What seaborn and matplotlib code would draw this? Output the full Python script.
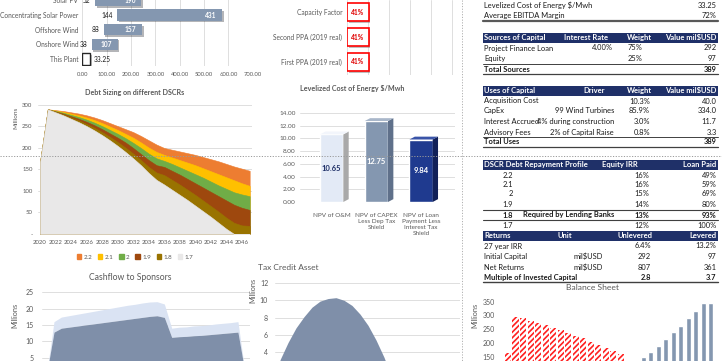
import numpy as np
import pandas as pd
import matplotlib
matplotlib.use("Agg")
import matplotlib.pyplot as plt
import matplotlib.patheffects as pe
import seaborn as sns
from matplotlib.lines import Line2D
from matplotlib.patches import Rectangle, Patch, Polygon

# ---------------- data ----------------
bench_cats = ["Solar PV", "Concentrating Solar Power", "Offshore Wind", "Onshore Wind", "This Plant"]
bench_low = [52, 144, 88, 38, 0]
bench_span = [190, 431, 157, 107, 33.25]
bench_ticks = [0, 100, 200, 300, 400, 500, 600, 700]

kpi_cats = ["Capacity Factor", "Second PPA (2019 real)", "First PPA (2019 real)"]
kpi_vals = [0.41, 0.41, 0.41]

years = list(range(2020, 2048))
dscr_labels = ["2.2", "2.1", "2", "1.9", "1.8", "1.7"]
dscr_2_2 = [167, 290, 288, 286, 283, 280, 276, 271, 265, 258, 251, 244, 237, 228, 218, 208, 200, 196, 192, 188, 184, 179, 174, 169, 163, 157, 152, 147]
dscr_2_1 = [167, 290, 287, 284, 280, 276, 271, 265, 258, 250, 242, 233, 224, 213, 201, 191, 184, 178, 172, 166, 160, 153, 146, 139, 132, 125, 118, 112]
dscr_2_0 = [167, 290, 286, 282, 277, 272, 266, 259, 251, 242, 233, 223, 212, 200, 187, 176, 170, 163, 155, 147, 139, 131, 122, 113, 105, 97, 92, 88]
dscr_1_9 = [167, 290, 285, 280, 274, 268, 261, 253, 244, 234, 224, 213, 200, 186, 172, 160, 156, 147, 138, 128, 118, 108, 98, 88, 78, 68, 61, 56]
dscr_1_8 = [167, 290, 284, 278, 271, 264, 256, 247, 237, 226, 214, 201, 187, 172, 156, 143, 137, 126, 115, 103, 91, 78, 65, 52, 38, 26, 20, 19]
dscr_1_7 = [167, 290, 283, 276, 268, 260, 251, 241, 230, 218, 205, 191, 176, 160, 142, 126, 115, 103, 91, 79, 66, 53, 40, 26, 12, 0, 0, 0]

lcoe_cats = ["NPV of O&M", "NPV of CAPEX\nLess Dep Tax\nShield", "NPV of Loan\nPayment Less\nInterest Tax\nShield"]
lcoe_vals = [10.65, 12.75, 9.84]

cf_base = [0, 12.8, 14.0, 14.3, 14.6, 14.9, 15.2, 15.5, 15.8, 16.1, 16.4, 16.7, 17.0, 17.3, 17.6, 17.8, 17.3,
           11.2, 11.4, 11.5, 11.7, 11.8, 12.0, 12.2, 12.4, 12.6, 12.8, 0]
cf_extra = [0, 3.2, 3.4, 3.5, 3.6, 3.7, 3.8, 3.9, 4.0, 4.1, 4.2, 4.3, 4.3, 4.4, 4.4, 4.3, 4.1,
            2.8, 2.9, 2.9, 3.0, 3.0, 3.0, 3.1, 3.1, 3.1, 3.2, 0]

tax_years = list(range(2020, 2043))
tax_credit = [3.1, 5.1, 6.8, 8.1, 9.2, 9.9, 10.2, 10.3, 10.0, 9.4, 8.4, 7.1, 5.4, 3.4, 1.0, 0, 0, 0, 0, 0, 0, 0, 0]

bs_debt = [162, 296, 289, 281, 273, 264, 255, 246, 236, 226, 216, 205, 194, 183, 172, 158,
           128, 105, 82, 58, 34, 10, 0, 0, 0, 0, 0, 0]
bs_equity = [0, 6, 12, 18, 24, 31, 38, 45, 52, 60, 68, 76, 85, 94, 103, 112, 120, 128,
             148, 168, 190, 213, 239, 263, 290, 317, 345, 345]

top_kpis = [("Levelized Cost of Energy $/Mwh", "33.25"), ("Average EBITDA Margin", "72%")]
sources_head = ["Sources of Capital", "Interest Rate", "Weight", "Value mil$USD"]
sources_rows = [("Project Finance Loan", "4.00%", "75%", "292"), ("Equity", "", "25%", "97")]
sources_total = ("Total Sources", "389")
uses_head = ["Uses of Capital", "Driver", "Weight", "Value mil$USD"]
uses_rows = [("Acquisition Cost", "", "10.3%", "40.0"),
             ("CapEx", "99 Wind Turbines", "85.9%", "334.0"),
             ("Interest Accrued", "4% during construction", "3.0%", "11.7"),
             ("Advisory Fees", "2% of Capital Raise", "0.8%", "3.3")]
uses_total = ("Total Uses", "389")
dscr_head = ["DSCR Debt Repayment Profile", "Equity IRR", "Loan Paid"]
dscr_rows = [("2.2", "", "16%", "49%"), ("2.1", "", "16%", "59%"), ("2", "", "15%", "69%"),
             ("1.9", "", "14%", "80%"), ("1.8", "Required by Lending Banks", "13%", "93%"),
             ("1.7", "", "12%", "100%")]
ret_head = ["Returns", "Unit", "Unlevered", "Levered"]
ret_rows = [("27 year IRR", "", "6.4%", "13.2%"), ("Initial Capital", "mil$USD", "292", "97"),
            ("Net Returns", "mil$USD", "807", "361"), ("Multiple of Invested Capital", "", "2.8", "3.7")]

# ---------------- style ----------------
sns.set_theme(style="white")
plt.rcParams["font.family"] = ["Lato", "DejaVu Sans"]
plt.rcParams["hatch.linewidth"] = 1.2

GRAY = "#595959"
GRID = "#d9d9d9"
SLATE = "#8497b0"
NAVY = "#1f3068"
TXT = "#1a1a1a"
TFS = 5.4
HFS = 5.5

W, H = 722, 361
fig = plt.figure(figsize=(7.22, 3.61), dpi=100)
fig.patch.set_facecolor("white")


def axpx(l, t, r, b, fs=5):
    ax = fig.add_axes([l / W, 1 - b / H, (r - l) / W, (b - t) / H])
    ax.set_facecolor("none")
    for s in ax.spines.values():
        s.set_visible(False)
    ax.tick_params(colors=GRAY, labelsize=fs, length=0, pad=2)
    return ax


def ftxt(x, y, s, ha="left", **kw):
    kw.setdefault("fontsize", TFS)
    kw.setdefault("color", TXT)
    fig.text(x / W, 1 - y / H, s, ha=ha, va="center", **kw)


def htxt(x, y, s, ha="left"):
    ftxt(x, y, s, ha=ha, color="white", fontweight="bold", fontsize=HFS)


def hline(x0, x1, y, lw=0.8, color="#404040", ls="-"):
    fig.add_artist(Line2D([x0 / W, x1 / W], [1 - y / H, 1 - y / H], transform=fig.transFigure,
                          lw=lw, color=color, ls=ls))


def vline(x, y0, y1, lw=0.8, color="#404040", ls="-"):
    fig.add_artist(Line2D([x / W, x / W], [1 - y0 / H, 1 - y1 / H], transform=fig.transFigure,
                          lw=lw, color=color, ls=ls))


def header(y0, y1):
    fig.add_artist(Rectangle((483 / W, 1 - y1 / H), (718 - 483) / W, (y1 - y0) / H,
                             transform=fig.transFigure, color=NAVY, lw=0))


shadow = [pe.SimplePatchShadow(offset=(1.2, -1.2), alpha=0.35), pe.Normal()]

# ---------------- top-left: LCOE benchmarks ----------------
ax1 = axpx(82.3, -7.0, 252.7, 66.4, fs=4.8)
pos = np.arange(len(bench_cats))
faces = [SLATE, SLATE, SLATE, SLATE, "white"]
edges = [SLATE, SLATE, SLATE, SLATE, "#262626"]
bars = ax1.barh(pos, bench_span, left=bench_low, height=0.78, color=faces, edgecolor=edges,
                linewidth=[0, 0, 0, 0, 1.0], zorder=3)
for b in bars:
    b.set_path_effects(shadow)
for i in range(len(bench_cats) - 1):
    ax1.annotate(f"{bench_low[i]:g}", (bench_low[i], i), xytext=(-3, 0), textcoords="offset points",
                 ha="right", va="center", fontsize=4.8, color=TXT)
    ax1.annotate(f"{bench_span[i]:g}", (bench_low[i] + bench_span[i], i), xytext=(-4, 0),
                 textcoords="offset points", ha="right", va="center", fontsize=4.8, color="white",
                 fontweight="bold", zorder=5)
ax1.annotate(f"{bench_span[-1]:g}", (bench_span[-1], len(bench_cats) - 1), xytext=(2.5, 0),
             textcoords="offset points", ha="left", va="center", fontsize=4.8, color=TXT)
ax1.set_xlim(0, 700)
ax1.set_ylim(len(bench_cats) - 0.5, -0.5)
ax1.set_xticks(bench_ticks, [f"{t:.2f}" for t in bench_ticks])
ax1.set_yticks(pos, bench_cats)
ax1.tick_params(axis="y", pad=3)
ax1.tick_params(axis="x", pad=4, labelsize=4.2)
ax1.grid(axis="x", color=GRID, lw=0.6)
ax1.set_axisbelow(True)

# ---------------- top-middle: KPI bars ----------------
ax2 = axpx(347, -0.5, 460, 74.5, fs=4.8)
kpos = np.arange(len(kpi_cats))
kb = ax2.barh(kpos, kpi_vals, height=0.72, color="white", edgecolor="#ff0000", linewidth=1.2, zorder=3)
for b in kb:
    b.set_path_effects(shadow)
ax2.bar_label(kb, labels=[f"{v:.0%}" for v in kpi_vals], label_type="center", fontsize=4.8,
              color="#e00000", fontweight="bold", zorder=5)
ax2.set_xlim(0, 2.15)
ax2.set_ylim(len(kpi_cats) - 0.5, -0.5)
ax2.set_xticks(np.arange(0, 2.1, 0.4), [])
ax2.set_yticks(kpos, kpi_cats)
ax2.tick_params(axis="y", pad=3.5)
ax2.grid(axis="x", color=GRID, lw=0.6)
ax2.set_axisbelow(True)

# ---------------- debt sizing ----------------
ax3 = axpx(38, 100, 252, 234, fs=4.3)
dscr_series = [dscr_2_2, dscr_2_1, dscr_2_0, dscr_1_9, dscr_1_8, dscr_1_7]
dscr_colors = ["#ed7d31", "#ffc000", "#70ad47", "#9e480e", "#997300", "#e9e8e8"]
debt_df = pd.DataFrame({lab: s for lab, s in zip(dscr_labels, dscr_series)}, index=years)
for lab, c in zip(dscr_labels, dscr_colors):
    ax3.fill_between(debt_df.index, 0, debt_df[lab], facecolor=c, edgecolor=c, lw=0.4, zorder=2)
ax3.set_xlim(2019.74, 2047.3)
ax3.set_ylim(0, 311.6)
ax3.set_yticks(range(0, 301, 50), ["-"] + [str(v) for v in range(50, 301, 50)])
ax3.set_xticks(range(2020, 2047, 2))
ax3.tick_params(axis="x", pad=4)
ax3.tick_params(axis="y", pad=4)
ax3.grid(axis="y", color=GRID, lw=0.6)
ax3.set_axisbelow(True)
ftxt(16, 118, "Millions", ha="center", rotation=90, fontsize=4.6, color=GRAY)
ftxt(135, 93, "Debt Sizing on different DSCRs", ha="center", fontsize=5.1, color=GRAY, fontweight="bold")
handles = [Patch(color=c) for c in dscr_colors]
fig.legend(handles, dscr_labels, loc="center", bbox_to_anchor=(135 / W, 1 - 257 / H), ncol=6,
           frameon=False, fontsize=4.5, handlelength=0.7, handleheight=0.7, columnspacing=0.9,
           handletextpad=0.4, labelcolor=GRAY)

# ---------------- LCOE components ----------------
ax4 = axpx(300, 108, 455, 202, fs=4.6)
lcoe_df = pd.DataFrame({"comp": lcoe_cats, "val": lcoe_vals})
lcoe_colors = ["#e3eaf6", "#8497b0", "#1f3a8f"]
side_colors = ["#a9a9a9", "#5f708a", "#112058"]
top_colors = ["#f2f5fb", "#a9b7ca", "#3a54a8"]
sns.barplot(data=lcoe_df, x="comp", y="val", hue="comp", palette=lcoe_colors, legend=False,
            width=0.52, ax=ax4, zorder=3, saturation=1)
dx, dy = 0.12, 0.45
for p, sc, tc in zip(ax4.patches, side_colors, top_colors):
    x0, w, h = p.get_x(), p.get_width(), p.get_height()
    ax4.add_patch(Polygon([(x0 + w, 0), (x0 + w + dx, dy), (x0 + w + dx, h + dy), (x0 + w, h)],
                          closed=True, color=sc, lw=0, zorder=3))
    ax4.add_patch(Polygon([(x0, h), (x0 + w, h), (x0 + w + dx, h + dy), (x0 + dx, h + dy)],
                          closed=True, color=tc, lw=0, zorder=3))
for p, v, c in zip(ax4.patches, lcoe_vals, [NAVY, "white", "white"]):
    ax4.text(p.get_x() + p.get_width() / 2, p.get_height() * 0.5, f"{v:.2f}", ha="center",
             va="center", fontsize=5.5, fontweight="bold", color=c, zorder=6)
ax4.set_xlim(-0.71, 2.76)
ax4.set_ylim(0, 14.8)
ax4.set_yticks(range(0, 15, 2), [f"{v:.2f}" for v in range(0, 15, 2)])
ax4.set_xlabel("")
ax4.set_ylabel("")
ax4.tick_params(axis="x", pad=8, labelsize=4.6)
ax4.tick_params(axis="y", pad=3)
ax4.grid(axis="y", color=GRID, lw=0.6)
ax4.set_axisbelow(True)
ftxt(352, 88, "Levelized Cost of Energy $/Mwh", ha="center", fontsize=5.1, color=GRAY, fontweight="bold")

# ---------------- cashflow to sponsors ----------------
ax5 = axpx(42, 285, 250, 374)
cf_base_arr = np.array(cf_base)
cf_top = cf_base_arr + np.array(cf_extra)
ax5.fill_between(years, cf_base_arr, cf_top, color="#dae3f3", lw=0, zorder=2)
ax5.fill_between(years, 0, cf_base_arr, color="#7f8fa9", lw=0, zorder=3)
ax5.set_xlim(2019.37, 2047.64)
ax5.set_ylim(0, 27.2)
ax5.set_yticks(range(0, 26, 5))
ax5.set_xticks([])
ax5.tick_params(axis="y", pad=6)
ax5.grid(axis="y", color=GRID, lw=0.6)
ax5.set_axisbelow(True)
ftxt(15, 315, "Millions", ha="center", rotation=90, fontsize=5.3, color=GRAY)
ftxt(130, 277, "Cashflow to Sponsors", ha="center", fontsize=6.2, color=GRAY)

# ---------------- tax credit asset ----------------
ax6 = axpx(275, 278, 460, 386.6)
ax6.fill_between(tax_years, 0, tax_credit, color="#7f8fa9", lw=0, zorder=2)
ax6.set_xlim(2019.375, 2042.5)
ax6.set_ylim(0, 12.58)
ax6.set_yticks(range(0, 13, 2))
ax6.set_xticks([])
ax6.tick_params(axis="y", pad=5)
ax6.grid(axis="y", color=GRID, lw=0.6)
ax6.set_axisbelow(True)
ftxt(253, 290, "Millions", ha="center", rotation=90, fontsize=5.3, color=GRAY)
ftxt(258, 267, "Tax Credit Asset", ha="left", fontsize=6.0, color=GRAY)

# ---------------- balance sheet ----------------
ax7 = axpx(498, 296, 722, 397.8)
bs_df = pd.DataFrame({"year": [str(y) for y in years], "debt": bs_debt, "equity": bs_equity})
sns.barplot(data=bs_df, x="year", y="debt", color="white", width=0.8, ax=ax7, zorder=2, saturation=1)
for p in ax7.patches:
    p.set_hatch("//////")
    p.set_edgecolor("#ff2020")
    p.set_linewidth(0)
sns.barplot(data=bs_df, x="year", y="equity", color=SLATE, width=0.7, ax=ax7, zorder=3, saturation=1)
ax7.set_xlim(-1.33, 28.5)
ax7.set_ylim(0, 370.7)
ax7.set_yticks(range(0, 351, 50))
ax7.set_xticks([])
ax7.set_xlabel("")
ax7.set_ylabel("")
ax7.tick_params(axis="y", pad=2)
ftxt(475, 315, "Millions", ha="center", rotation=90, fontsize=5.3, color=GRAY)

# ---------------- tables ----------------
L, R = 484, 716.5
for (lab, val), y in zip(top_kpis, [5, 15.5]):
    ftxt(L, y, lab)
    ftxt(R, y, val, ha="right")
hline(483, 718, 21, lw=1.6, color="#595959")

# sources
header(32.5, 42.5)
htxt(L, 37.5, sources_head[0])
htxt(608, 37.5, sources_head[1], ha="right")
htxt(652, 37.5, sources_head[2], ha="right")
htxt(R, 37.5, sources_head[3], ha="right")
for row, y in zip(sources_rows, [48, 58.3]):
    ftxt(L, y, row[0])
    ftxt(613, y, row[1], ha="right")
    ftxt(642, y, row[2], ha="right")
    ftxt(R, y, row[3], ha="right")
hline(483, 718, 63.5, lw=0.7)
ftxt(L, 69, sources_total[0], fontweight="bold")
ftxt(R, 69, sources_total[1], ha="right", fontweight="bold")
hline(483, 718, 74.3, lw=0.9)

# uses
header(85.5, 95.5)
htxt(L, 90.5, uses_head[0])
htxt(605, 90.5, uses_head[1], ha="right")
htxt(652, 90.5, uses_head[2], ha="right")
htxt(R, 90.5, uses_head[3], ha="right")
for row, y in zip(uses_rows, [101, 111, 121.5, 132]):
    ftxt(L, y, row[0])
    ftxt(614, y, row[1], ha="right")
    ftxt(650, y, row[2], ha="right")
    ftxt(R, y, row[3], ha="right")
hline(483, 718, 137, lw=0.7)
ftxt(L, 142, uses_total[0], fontweight="bold")
ftxt(R, 142, uses_total[1], ha="right", fontweight="bold")
hline(483, 718, 147, lw=0.9)

# dscr
header(159.5, 169.5)
htxt(L, 164.5, dscr_head[0])
htxt(638, 164.5, dscr_head[1], ha="right")
htxt(R, 164.5, dscr_head[2], ha="right")
for row, y in zip(dscr_rows, [175, 184.3, 194, 204.3, 215, 225.7]):
    bold = "bold" if row[1] else "normal"
    ftxt(513, y, row[0], ha="right", fontweight=bold)
    ftxt(614, y, row[1], ha="right", fontweight=bold)
    ftxt(649, y, row[2], ha="right", fontweight=bold)
    ftxt(R, y, row[3], ha="right", fontweight=bold)
hline(483, 718, 209.6, lw=0.8)
hline(483, 718, 220.4, lw=0.8)

# returns
header(230.5, 241)
htxt(L, 235.7, ret_head[0])
htxt(565, 235.7, ret_head[1], ha="center")
htxt(652, 235.7, ret_head[2], ha="right")
htxt(R, 235.7, ret_head[3], ha="right")
for i, (row, y) in enumerate(zip(ret_rows, [246, 256.3, 267, 277.5])):
    bold = "bold" if i == len(ret_rows) - 1 else "normal"
    ftxt(L, y, row[0], fontweight=bold)
    ftxt(573, y, row[1])
    ftxt(651, y, row[2], ha="right", fontweight=bold)
    ftxt(R, y, row[3], ha="right", fontweight=bold)
hline(483, 718, 282, lw=1.0)
ftxt(593, 287, "Balance Sheet", ha="center", fontsize=6.1, color=GRAY)

# page-break guides
hline(0, 722, 155.5, lw=0.7, color="#9a9a9a", ls=(0, (1.2, 1.6)))
vline(462, 0, 361, lw=0.7, color="#b0b0b0", ls=(0, (1.2, 1.6)))

fig.savefig("out.png", dpi=100, facecolor="white")
